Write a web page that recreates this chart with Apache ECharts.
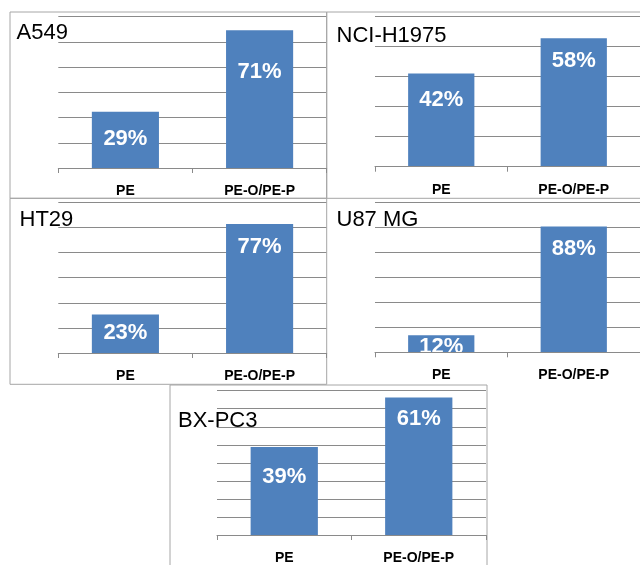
<!DOCTYPE html>
<html>
<head>
<meta charset="utf-8">
<title>PE vs PE-O/PE-P by cell line</title>
<script src="https://cdn.jsdelivr.net/npm/echarts@6/dist/echarts.min.js"></script>
<style>
  html, body { margin: 0; padding: 0; background: #ffffff; }
  #chart { width: 640px; height: 565px; }
</style>
</head>
<body>
<div id="chart"></div>
<script>
// Share of each lipid class per cell line (percent)
const categories = ['PE', 'PE-O/PE-P'];
const cellLines = ['A549', 'NCI-H1975', 'HT29', 'U87 MG', 'BX-PC3'];
const a549 = [29, 71];
const nciH1975 = [42, 58];
const ht29 = [23, 77];
const u87mg = [12, 88];
const bxpc3 = [39, 61];
const seriesValues = [a549, nciH1975, ht29, u87mg, bxpc3];

// Value-axis range and gridline step for each panel
const axisMax = [78, 68, 90, 105, 64];
const axisStep = [13, 13.6, 15, 17.5, 8];

// Panel layout: plot box, title anchor, and how far each value label sits below its bar top
const layout = [
  { grid: { left: 58.3, top: 16.7, width: 268.4, height: 151.3 }, title: { left: 16.5, top: 21.5 }, drops: [26.7, 42] },
  { grid: { left: 375, top: 16, width: 268.4, height: 150.7 }, title: { left: 336.5, top: 25 }, drops: [26, 22.7] },
  { grid: { left: 58.3, top: 202.3, width: 268.4, height: 150.7 }, title: { left: 19.5, top: 208.5 }, drops: [18.3, 22.5] },
  { grid: { left: 375, top: 202.3, width: 268.4, height: 150 }, title: { left: 336.5, top: 208.5 }, drops: [11.5, 22.5] },
  { grid: { left: 217, top: 390.7, width: 269, height: 149.3 }, title: { left: 178, top: 410 }, drops: [30, 21.5] }
];

const BAR_COLOR = '#4F81BD';
const GRID_COLOR = '#8a8a8a';
const BORDER_COLOR = '#a6a6a6';
const LABEL_LINE_H = 22;

const chart = echarts.init(document.getElementById('chart'), null, { renderer: 'canvas' });

const grids = [], xAxes = [], yAxes = [], series = [], titles = [];

layout.forEach((p, i) => {
  grids.push(Object.assign({ containLabel: false }, p.grid));
  titles.push({
    text: cellLines[i],
    left: p.title.left,
    top: p.title.top,
    padding: 0,
    textStyle: { fontFamily: 'Liberation Sans', fontSize: 22, fontWeight: 'normal', color: '#000000' }
  });
  xAxes.push({
    type: 'category',
    gridIndex: i,
    data: categories,
    z: 5,
    axisLine: { lineStyle: { color: GRID_COLOR, width: 1 } },
    axisTick: { show: true, length: 5, lineStyle: { color: GRID_COLOR } },
    axisLabel: {
      margin: 16,
      fontFamily: 'Liberation Sans',
      fontSize: 14,
      fontWeight: 'bold',
      color: '#000000',
      lineHeight: 14,
      interval: 0
    },
    splitLine: { show: false }
  });
  yAxes.push({
    type: 'value',
    gridIndex: i,
    min: 0,
    max: axisMax[i],
    interval: axisStep[i],
    axisLine: { show: false },
    axisTick: { show: false },
    axisLabel: { show: false },
    splitLine: { show: true, lineStyle: { color: GRID_COLOR, width: 1 } }
  });
  series.push({
    type: 'bar',
    xAxisIndex: i,
    yAxisIndex: i,
    barWidth: '50%',
    itemStyle: { color: BAR_COLOR },
    data: seriesValues[i].map((v, k) => ({
      value: v,
      label: { distance: p.drops[k] - LABEL_LINE_H / 2 }
    })),
    label: {
      show: true,
      position: 'insideTop',
      formatter: '{c}%',
      color: '#ffffff',
      fontFamily: 'Liberation Sans',
      fontSize: 22,
      fontWeight: 'bold',
      lineHeight: LABEL_LINE_H
    }
  });
});

chart.setOption({
  animation: false,
  backgroundColor: '#ffffff',
  title: titles,
  grid: grids,
  xAxis: xAxes,
  yAxis: yAxes,
  series: series
});

// Panel frames
const frameStyle = { stroke: BORDER_COLOR, lineWidth: 1, fill: null };
const graphics = [
  { type: 'rect', id: 'f1', shape: { x: 10, y: 12, width: 316.7, height: 186.3 }, style: frameStyle, silent: true, z: 0 },
  { type: 'rect', id: 'f2', shape: { x: 326.7, y: 12, width: 340, height: 186.3 }, style: frameStyle, silent: true, z: 0 },
  { type: 'rect', id: 'f3', shape: { x: 10, y: 198.3, width: 316.7, height: 186 }, style: frameStyle, silent: true, z: 0 },
  { type: 'rect', id: 'f5', shape: { x: 170, y: 385, width: 317, height: 220 }, style: frameStyle, silent: true, z: 0 }
];

// Value labels are cut off at the category axis: hide whatever spills below it
layout.forEach((p, i) => {
  seriesValues[i].forEach((v, k) => {
    const base = chart.convertToPixel({ xAxisIndex: i, yAxisIndex: i }, [categories[k], 0]);
    const halfBand = p.grid.width / categories.length / 2;
    graphics.push({
      type: 'rect',
      id: 'mask' + i + '_' + k,
      silent: true,
      z: 10,
      shape: { x: base[0] - halfBand / 2 - 1, y: base[1] + 1, width: halfBand + 2, height: 12 },
      style: { fill: '#ffffff' }
    });
  });
});

chart.setOption({ graphic: graphics });
</script>
</body>
</html>
